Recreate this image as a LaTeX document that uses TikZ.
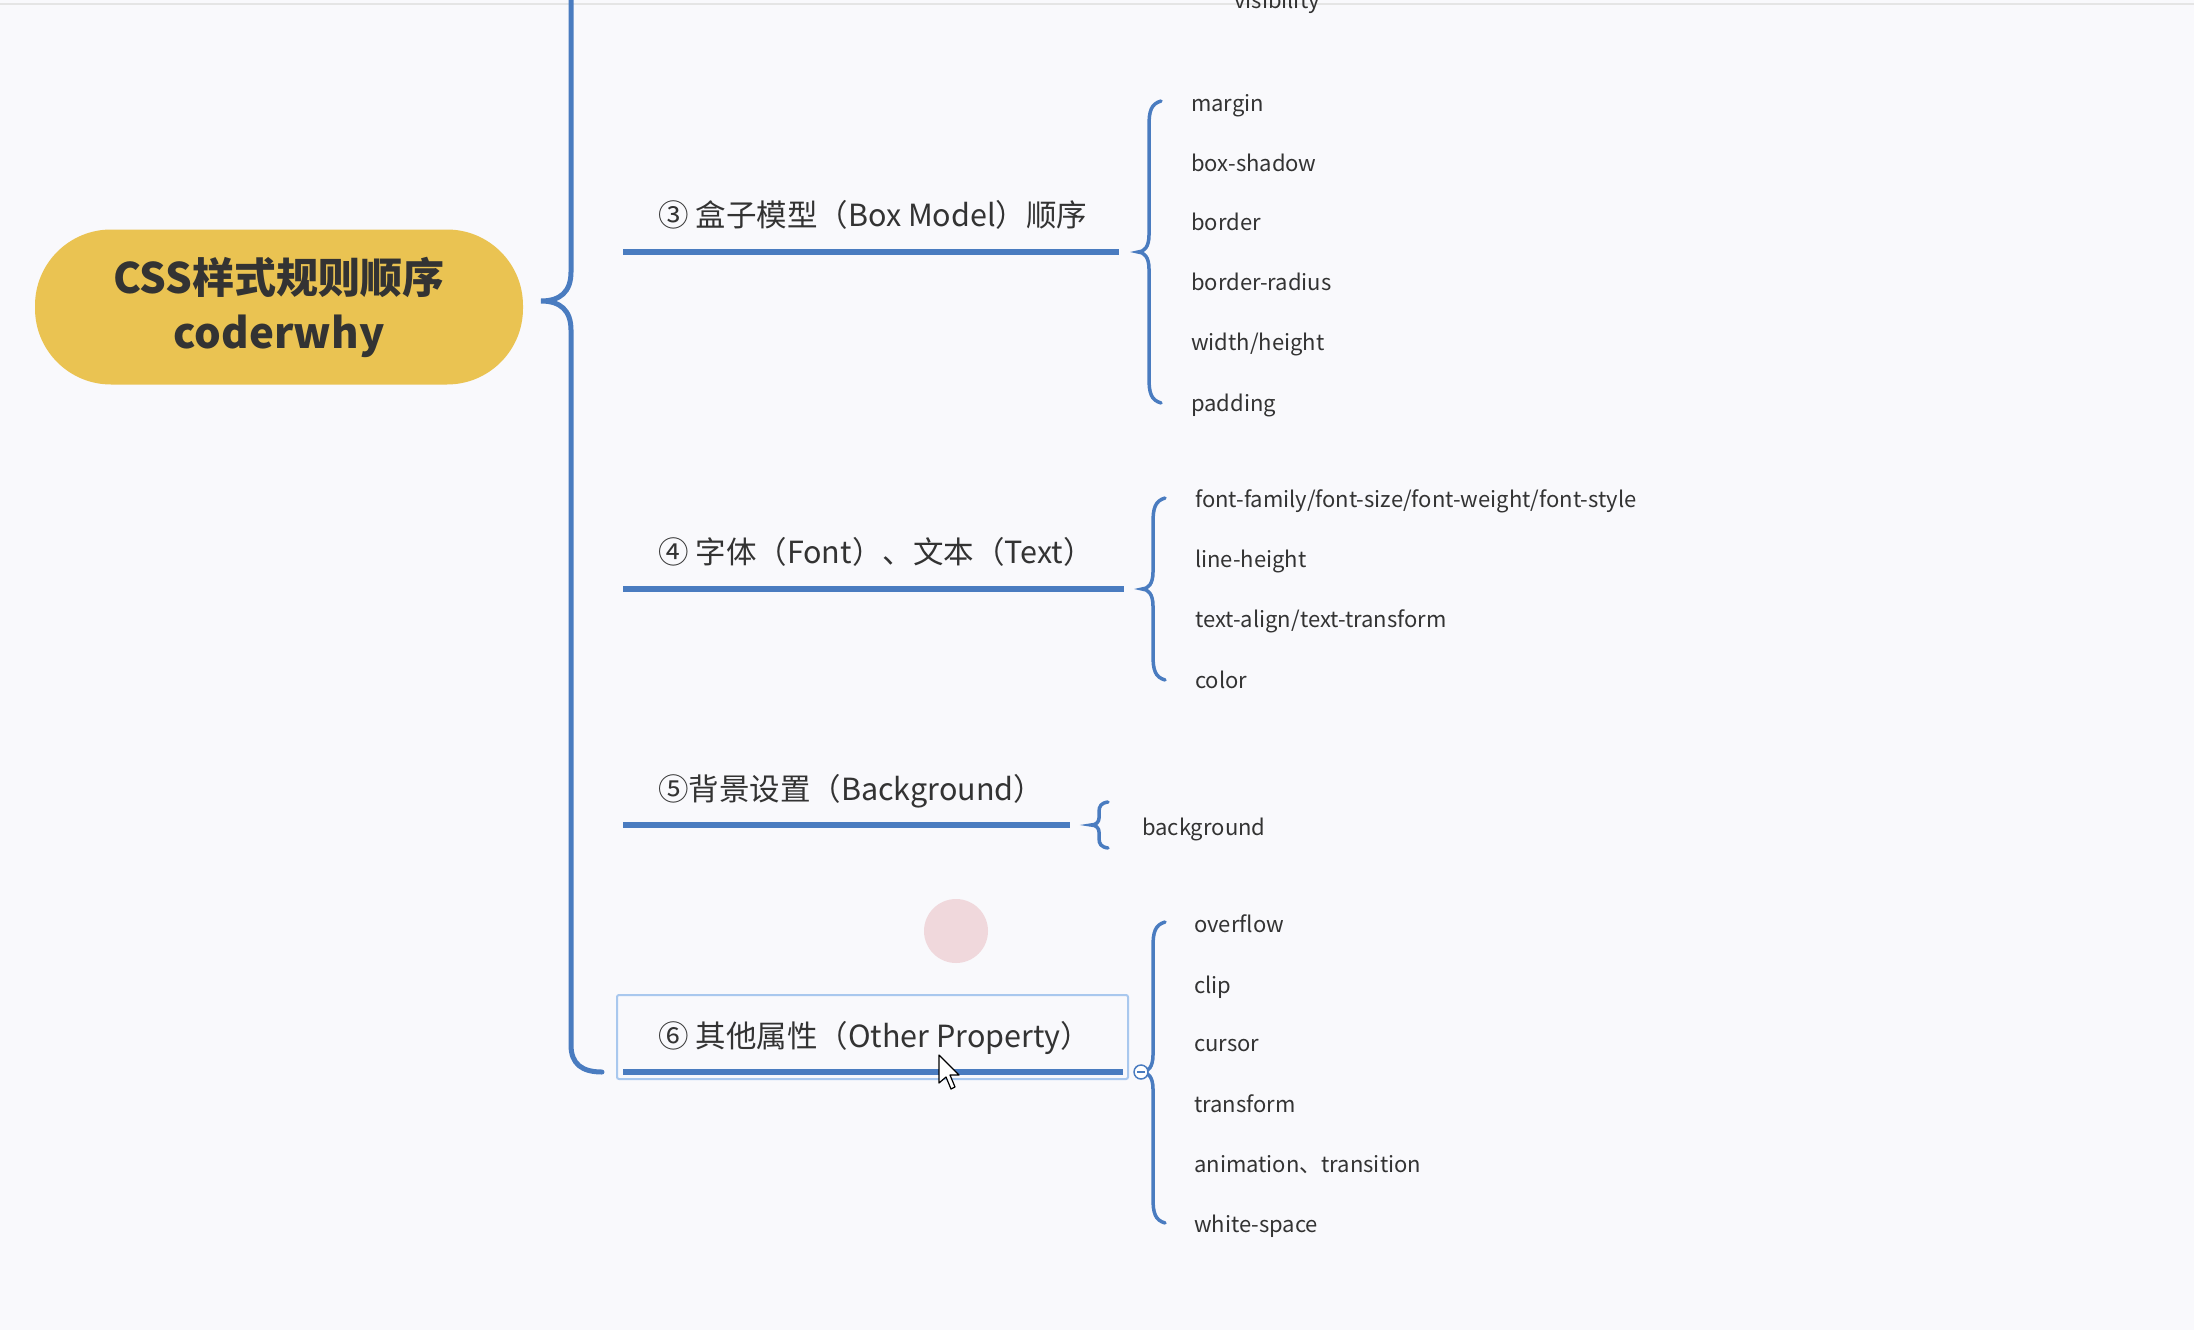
\documentclass[tikz,border=0pt]{standalone}
\usepackage{fontspec}
\setmainfont{Noto Sans CJK SC}
\usetikzlibrary{calc}
\definecolor{mmblue}{HTML}{4A7CC0}
\definecolor{mmyellow}{HTML}{EAC352}
\definecolor{mmbg}{HTML}{F9F9FC}
\definecolor{mmtext}{HTML}{333333}
\definecolor{selbox}{HTML}{A9C8EE}
\definecolor{mmpink}{HTML}{EFD3D7}
\newcommand\mmbrace[4]{%
 \draw[leafbr] ({#1+12},#2) .. controls ({#1+2},{#2+3}) and (#1,{#2+10}) .. (#1,{#2+25}) -- (#1,{#3-17}) .. controls (#1,{#3-5}) and ({#1-5},#3) .. ({#1-11},#3) .. controls ({#1-5},#3) and (#1,{#3+5}) .. (#1,{#3+17}) -- (#1,{#4-25}) .. controls (#1,{#4-10}) and ({#1+2},{#4-3}) .. ({#1+12},#4);}
\begin{document}
\begin{tikzpicture}[x=1pt,y=-1pt,
  root/.style={fill=mmyellow, rounded corners=76, minimum width=488, minimum height=155, align=center, text=mmtext, font=\fontsize{42}{55}\selectfont\bfseries, inner sep=0},
  branch/.style={anchor=west, text=mmtext, font=\fontsize{30.5}{36}\selectfont, inner sep=0, text height=24, text depth=7, yshift=-4pt},
  leaf/.style={anchor=west, text=mmtext, font=\fontsize{22}{26}\selectfont, inner sep=0, text height=16, text depth=5, yshift=-3.5pt},
  uline/.style={mmblue, line width=5.5, line cap=butt},
  mainbr/.style={mmblue, line width=5, line cap=round},
  leafbr/.style={mmblue, line width=3.5, line cap=round}]
\useasboundingbox (0,0) rectangle (2194,1330);
\fill[mmbg] (0,0) rectangle (2194,1330);
\draw[black!10, line width=1.5] (0,4) -- (2194,4);

% root
\node[root] (root) at (279,307) {CSS样式规则顺序\\coderwhy};

% cut-off leaf at top (cut by the top edge, as in the screenshot)
\node[leaf] (vis) at (1234,0) {visibility};

% highlight and selection
\fill[mmpink, opacity=0.85] (956,931) circle (32);
\draw[selbox, line width=2, rounded corners=2] (617,995) rectangle (1128,1079);

% branches
\node[branch] (b3) at (658,214) {③ 盒子模型（Box Model）顺序};
\node[branch] (b4) at (658,551) {④ 字体（Font）、文本（Text）};
\node[branch] (b5) at (658,788) {⑤背景设置（Background）};
\node[branch] (b6) at (658,1035) {⑥ 其他属性（Other Property）};

\coordinate (u3a) at (623,252); \coordinate (u3b) at (1119,252);
\coordinate (u4a) at (623,589); \coordinate (u4b) at (1124,589);
\coordinate (u5a) at (623,825); \coordinate (u5b) at (1070,825);
\coordinate (u6a) at (623,1072); \coordinate (u6b) at (1123,1072);
\draw[uline] (u3a) -- (u3b);
\draw[uline] (u4a) -- (u4b);
\draw[uline] (u5a) -- (u5b);
\draw[uline] (u6a) -- (u6b);

% main brace
\coordinate (tip) at (541,301);
\draw[mainbr] (571,-10) -- (571,272) .. controls (571,292) and (560,301) .. (tip)
  .. controls (560,301) and (571,310) .. (571,330) -- (571,1045)
  .. controls (571,1064) and (582,1072) .. (602,1072);

% leaves of 3
\mmbrace{1149}{101}{252}{403}
\node[leaf] (m1) at (1191,102) {margin};
\node[leaf] (m2) at (1191,162) {box-shadow};
\node[leaf] (m3) at (1191,221) {border};
\node[leaf] (m4) at (1191,281) {border-radius};
\node[leaf] (m5) at (1191,341) {width/height};
\node[leaf] (m6) at (1191,402) {padding};

% leaves of 4
\mmbrace{1153}{498}{589}{680}
\node[leaf] (f1) at (1195,498) {font-family/font-size/font-weight/font-style};
\node[leaf] (f2) at (1195,558) {line-height};
\node[leaf] (f3) at (1195,618) {text-align/text-transform};
\node[leaf] (f4) at (1195,679) {color};

% leaf of 5
\draw[leafbr] (1108,802) .. controls (1101,803) and (1099,806) .. (1099,812) -- (1099,818) .. controls (1099,822) and (1096,825) .. (1091,825) .. controls (1096,825) and (1099,828) .. (1099,832) -- (1099,838) .. controls (1099,844) and (1101,847) .. (1108,848);
\node[leaf] (g1) at (1142,826) {background};

% leaves of 6
\mmbrace{1153}{922}{1072}{1223}
\node[leaf] (o1) at (1194,923) {overflow};
\node[leaf] (o2) at (1194,984) {clip};
\node[leaf] (o3) at (1194,1042) {cursor};
\node[leaf] (o4) at (1194,1103) {transform};
\node[leaf] (o5) at (1194,1163) {animation、transition};
\node[leaf] (o6) at (1194,1223) {white-space};
\draw[mmblue, fill=white, line width=1.5] (1141,1072) circle (7);
\draw[mmblue, line width=1.5] (1137,1072) -- (1145,1072);

% mouse cursor
\draw[black, fill=white, line width=1.2, line join=round] (939,1055) -- (939,1083) -- (946,1077) -- (951,1089) -- (955,1087) -- (950,1075) -- (959,1075) -- cycle;
\end{tikzpicture}
\end{document}
